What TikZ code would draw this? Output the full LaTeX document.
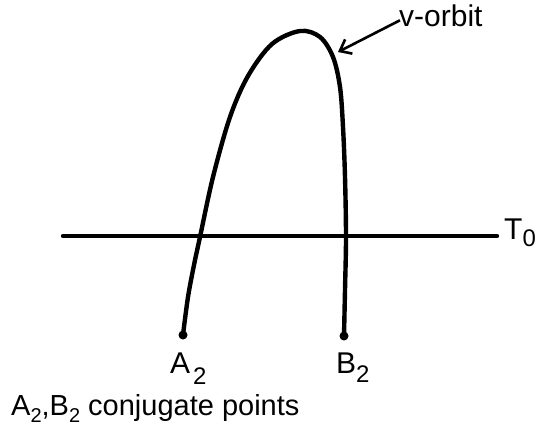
\documentclass[tikz,border=0pt]{standalone}
\usetikzlibrary{arrows.meta}
\usepackage{fontspec}
\setmainfont{Liberation Sans}
\newcommand{\subA}[2]{\raisebox{-#1pt}{\fontsize{24}{26}\selectfont #2}}
\newcommand{\subB}[1]{\raisebox{-7pt}{\fontsize{20}{22}\selectfont #1}}
\begin{document}
\begin{tikzpicture}[x=1pt,y=-1pt,
  stroke/.style={line width=4.4pt,line cap=round,line join=round},
  big/.style={inner sep=0pt,font=\fontsize{30}{32}\selectfont},
  small/.style={inner sep=0pt,font=\fontsize{29}{31}\selectfont},
  dot/.style={circle,fill=black,inner sep=0pt,minimum size=9pt}]
\useasboundingbox (0,0) rectangle (538,425);
\node[dot] (A) at (183,335) {};
\node[dot] (B) at (344,336) {};
\coordinate (L) at (63,236);
\coordinate (R) at (497,236);
\draw[stroke] (L) -- (R);
\draw[stroke] (A) plot[smooth,tension=0.55] coordinates {(183,335) (188,297) (194,265) (200,237) (213,177) (230,117) (248,76) (272,44) (300,31) (320,37) (333,57) (340,87) (343,127) (345,177) (346,237) (345,290) (344,336)};
\node[big,anchor=base west] (T) at (504,239) {T\raisebox{-7pt}{\fontsize{24}{26}\selectfont 0}};
\node[big,anchor=base west] (V) at (399,27) {v-orbit};
\coordinate (tip) at (338,52);
\draw[line width=2.6pt,-{Straight Barb[length=10pt,width=16pt,line width=2.6pt]}] ([xshift=1pt,yshift=-4pt]V.west) -- (tip);
\node[big,anchor=base west] (AL) at (170,373) {A\hspace{3pt}\subA{11}{2}};
\node[big,anchor=base west] (BL) at (336,373) {B\subA{9}{2}};
\node[small,anchor=base west] (C) at (11,415) {A\subB{2},B\subB{2} conjugate points};
\end{tikzpicture}
\end{document}
